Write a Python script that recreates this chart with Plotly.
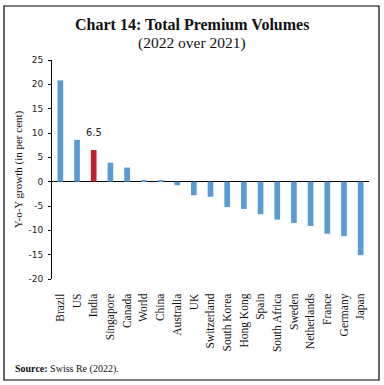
import plotly.graph_objects as go

countries = ["Brazil", "US", "India", "Singapore", "Canada", "World", "China", "Australia", "UK",
             "Switzerland", "South Korea", "Hong Kong", "Spain", "South Africa", "Sweden",
             "Netherlands", "France", "Germany", "Japan"]
growth = [20.8, 8.6, 6.5, 3.9, 2.9, 0.35, 0.3, -0.75, -2.8,
          -3.1, -5.2, -5.6, -6.7, -7.8, -8.5, -9.1, -10.7, -11.2, -15.1]
highlight = "India"
y_ticks = [-20, -15, -10, -5, 0, 5, 10, 15, 20, 25]

BLUE = "#5B9BD5"
RED = "#C0202E"
colors = [RED if c == highlight else BLUE for c in countries]

fig = go.Figure(go.Bar(
    x=countries, y=growth, marker=dict(color=colors, line=dict(width=0)),
))

L, R, T, B = 52, 15, 60, 106
W, H = 384, 385
pw, ph = W - L - R, H - T - B

def px(x):
    return (x - L) / pw

def py(y):
    return (H - B - y) / ph

hi_val = growth[countries.index(highlight)]

fig.update_layout(
    width=W, height=H, margin=dict(l=L, r=R, t=T, b=B, autoexpand=False),
    paper_bgcolor="white", plot_bgcolor="white", showlegend=False,
    bargap=0.66,
    xaxis=dict(tickangle=-90, showline=False, showgrid=False, automargin=False,
               ticks="outside", ticklen=9, tickcolor="rgba(0,0,0,0)",
               tickfont=dict(family="Liberation Serif", size=11.5, color="#111")),
    yaxis=dict(range=[-20, 25], tickvals=y_ticks, ticktext=[str(v) for v in y_ticks],
               showgrid=False, showline=True, linecolor="black", automargin=False,
               linewidth=1, ticks="outside", ticklen=3, tickcolor="black",
               ticklabelstandoff=3,
               zeroline=True, zerolinecolor="black", zerolinewidth=1.2,
               tickfont=dict(family="DejaVu Sans", size=9, color="#222"),
               title=dict(text="Y-o-Y growth (in per cent)", standoff=3,
                          font=dict(family="Liberation Serif", size=11, color="#111"))),
    shapes=[dict(type="rect", xref="paper", yref="paper",
                 x0=px(4), x1=px(379), y0=py(380), y1=py(6),
                 line=dict(color="black", width=1.2))],
    annotations=[
        dict(text=f"{hi_val}", x=highlight, y=hi_val, xref="x", yref="y",
             yshift=18, showarrow=False,
             font=dict(family="DejaVu Sans", size=10, color="#222")),
        dict(text="<b>Chart 14: Total Premium Volumes</b>", xref="paper", yref="paper",
             x=px(192), y=py(24), xanchor="center", yanchor="middle", showarrow=False,
             font=dict(family="Liberation Serif", size=16, color="#111")),
        dict(text="(2022 over 2021)", xref="paper", yref="paper",
             x=px(192), y=py(43), xanchor="center", yanchor="middle", showarrow=False,
             font=dict(family="Liberation Serif", size=15.5, color="#111")),
        dict(text="<b>Source:</b> Swiss Re (2022).", xref="paper", yref="paper",
             x=px(13), y=py(369), xanchor="left", yanchor="middle", showarrow=False,
             font=dict(family="Liberation Serif", size=10, color="#111")),
    ],
)

fig.write_html("out.html", config={"displayModeBar": False},
               post_script="document.body.style.margin='0';document.body.style.overflow='hidden';")
